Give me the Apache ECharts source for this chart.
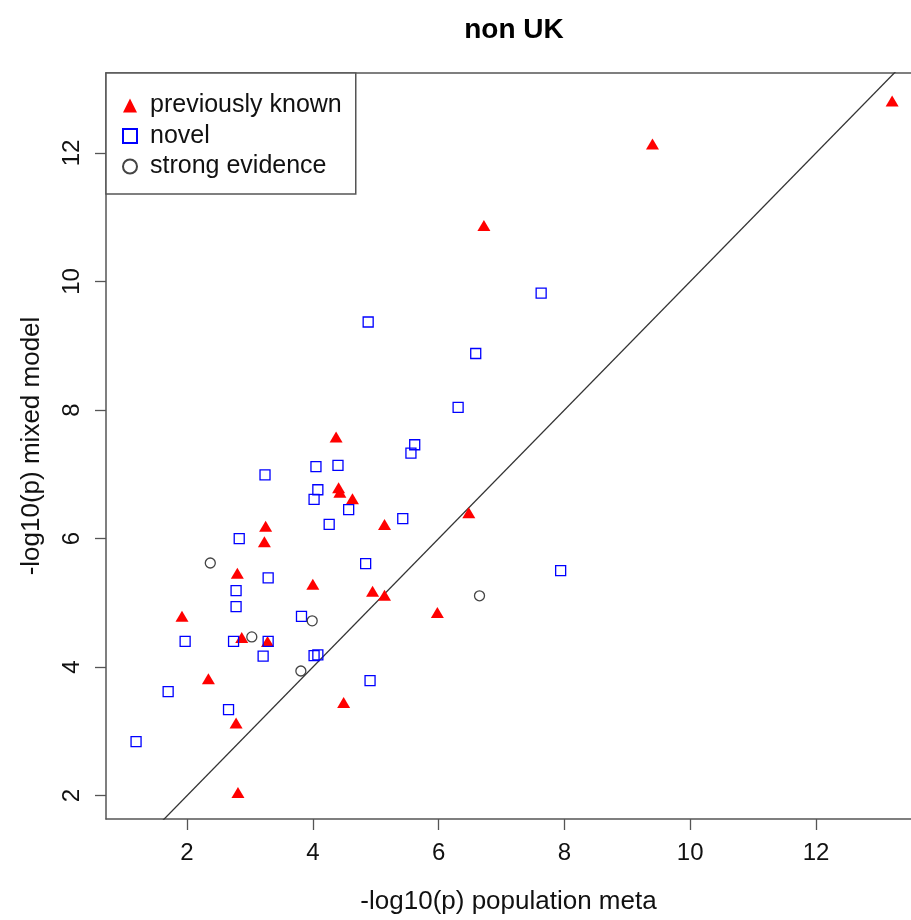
<!DOCTYPE html>
<html>
<head>
<meta charset="utf-8">
<script src="https://cdn.jsdelivr.net/npm/echarts@6/dist/echarts.min.js"></script>
<style>html,body{margin:0;padding:0;background:#fff;overflow:hidden}#c{width:911px;height:920px}</style>
</head>
<body>
<div id="c"></div>
<script>
var knownX = [13.21, 9.40, 6.72, 4.37, 4.41, 4.43, 4.63, 5.14, 3.25, 3.23, 2.80, 4.00, 4.95, 5.14, 6.48, 1.92, 2.87, 3.28, 2.34, 2.78, 4.49, 2.81, 5.98];
var knownY = [12.81, 12.14, 10.87, 7.58, 6.79, 6.72, 6.62, 6.22, 6.19, 5.95, 5.46, 5.29, 5.18, 5.12, 6.40, 4.79, 4.46, 4.40, 3.82, 3.13, 3.45, 2.05, 4.85];
var novelX = [7.63, 4.88, 6.59, 6.31, 5.62, 5.56, 4.05, 4.40, 4.08, 4.02, 4.57, 4.26, 5.43, 4.84, 7.94, 3.82, 3.24, 2.83, 3.29, 2.78, 2.78, 1.97, 2.74, 3.29, 3.21, 4.02, 4.08, 1.70, 2.66, 1.19, 4.91];
var novelY = [9.82, 9.37, 8.88, 8.04, 7.46, 7.33, 7.12, 7.14, 6.76, 6.61, 6.45, 6.22, 6.31, 5.61, 5.50, 4.79, 6.99, 6.00, 5.39, 5.19, 4.94, 4.40, 4.40, 4.40, 4.17, 4.18, 4.19, 3.62, 3.34, 2.84, 3.79];
var strongX = [2.37, 3.03, 3.99, 3.81, 6.65];
var strongY = [5.62, 4.47, 4.72, 3.94, 5.11];
var refLineX = [0, 14];
var refLineY = [0, 14];
var tickValues = [2, 4, 6, 8, 10, 12];
var seriesNames = ['previously known', 'novel', 'strong evidence'];

function pairs(xs, ys) { return xs.map(function (x, i) { return [x, ys[i]]; }); }

var FONT = 'Liberation Sans, Arial, sans-serif';
var AXC = '#555';
var X_MIN = 0.712, X_MAX = 13.51, Y_MIN = 1.637, Y_MAX = 13.244;
var chart = echarts.init(document.getElementById('c'), null, {renderer: 'canvas', width: 911, height: 920});
chart.setOption({
  animation: false,
  backgroundColor: '#fff',
  title: {
    text: 'non UK', left: 514, top: 16, padding: 0, textAlign: 'center',
    textStyle: {fontFamily: FONT, fontSize: 28, fontWeight: 'bold', color: '#000'}
  },
  grid: {left: 106, top: 73, width: 805, height: 754, show: false, containLabel: false},
  legend: {
    orient: 'vertical', left: 106, top: 73,
    data: seriesNames,
    backgroundColor: '#fff', borderColor: AXC, borderWidth: 1.5, borderRadius: 0,
    padding: [20, 14, 15, 16],
    itemWidth: 14, itemHeight: 14, itemGap: 5.5,
    textStyle: {fontFamily: FONT, fontSize: 25, color: '#111', lineHeight: 25, padding: [0, 0, 0, 8]}
  },
  xAxis: [{
    type: 'value', min: X_MIN, max: X_MAX, position: 'bottom',
    name: '-log10(p) population meta', nameLocation: 'middle', nameGap: 70,
    nameTextStyle: {fontFamily: FONT, fontSize: 26, color: '#111'},
    axisLine: {show: true, onZero: false, lineStyle: {color: AXC, width: 1.5}},
    axisTick: {show: true, length: 11, customValues: tickValues, lineStyle: {color: AXC, width: 1.3}},
    axisLabel: {customValues: tickValues, fontFamily: FONT, fontSize: 24, color: '#111', margin: 22},
    splitLine: {show: false}
  }, {
    type: 'value', min: X_MIN, max: X_MAX, position: 'top',
    axisLine: {show: true, onZero: false, lineStyle: {color: AXC, width: 1.5}},
    axisTick: {show: false}, axisLabel: {show: false}, splitLine: {show: false}
  }],
  yAxis: {
    type: 'value', min: Y_MIN, max: Y_MAX, position: 'left',
    name: '-log10(p) mixed model', nameLocation: 'middle', nameGap: 61, nameRotate: 90,
    nameTextStyle: {fontFamily: FONT, fontSize: 26, color: '#111'},
    axisLine: {show: true, onZero: false, lineStyle: {color: AXC, width: 1.5}},
    axisTick: {show: true, length: 11, customValues: tickValues, lineStyle: {color: AXC, width: 1.3}},
    axisLabel: {customValues: tickValues, rotate: 90, fontFamily: FONT, fontSize: 24, color: '#111', margin: 22},
    splitLine: {show: false}
  },
  series: [
    {
      type: 'line', data: pairs(refLineX, refLineY), symbol: 'none', silent: true, clip: true,
      lineStyle: {color: '#333', width: 1.3}, z: 1
    },
    {
      name: seriesNames[0], type: 'scatter', data: pairs(knownX, knownY),
      symbol: 'triangle', symbolSize: [13, 11],
      itemStyle: {color: '#ff0000', opacity: 1}, z: 2
    },
    {
      name: seriesNames[1], type: 'scatter', data: pairs(novelX, novelY),
      symbol: 'rect', symbolSize: 10,
      itemStyle: {color: 'rgba(255,255,255,0)', borderColor: '#0000ff', borderWidth: 1.3, opacity: 1}, z: 3
    },
    {
      name: seriesNames[2], type: 'scatter', data: pairs(strongX, strongY),
      symbol: 'circle', symbolSize: 10,
      itemStyle: {color: 'rgba(255,255,255,0)', borderColor: '#444', borderWidth: 1.3, opacity: 1}, z: 4
    }
  ]
});
</script>
</body>
</html>
